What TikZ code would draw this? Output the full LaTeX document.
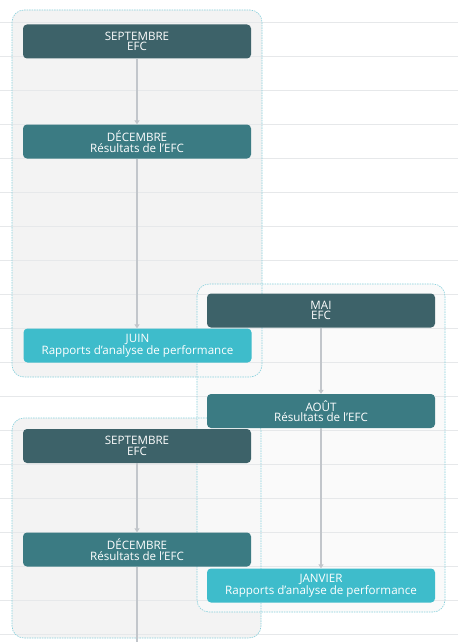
\documentclass[tikz,border=0pt]{standalone}
\usepackage{fontspec}
\setmainfont{Open Sans}
\usetikzlibrary{arrows.meta}
\definecolor{cdark}{HTML}{3D6269}
\definecolor{cmid}{HTML}{3B7B83}
\definecolor{ccyan}{HTML}{3EBCCB}
\definecolor{cgrid}{HTML}{E6E8EA}
\definecolor{cgroup}{HTML}{F3F3F3}
\definecolor{cgroupb}{HTML}{FAFAFA}
\definecolor{cborder}{HTML}{86D0DC}
\definecolor{carrow}{HTML}{C2C6CB}
\tikzset{
  evt/.style={minimum width=228pt, minimum height=34pt, inner sep=0pt, rounded corners=4pt,
    align=center, text=white, font=\fontsize{11.6}{10.6}\selectfont},
  darkbox/.style={evt, fill=cdark},
  midbox/.style={evt, fill=cmid},
  cyanbox/.style={evt, fill=ccyan},
  grp/.style={rounded corners=12pt},
  grpborder/.style={draw=cborder, line width=0.6pt, dash pattern=on 1.5pt off 1pt, rounded corners=12pt},
  conn/.style={draw=carrow, line width=1.3pt, -{Triangle[length=4pt,width=5pt]}},
  gridline/.style={draw=cgrid, line width=0.8pt}
}
\begin{document}
\begin{tikzpicture}[x=1pt,y=-1pt]
\useasboundingbox (0,0) rectangle (458,642);
\fill[white] (0,0) rectangle (458,642);
% group fills
\fill[grp, cgroup] (12,10) rectangle (262,377);
\fill[grp, cgroup] (12,418) rectangle (261,638);
\fill[grp, cgroupb, opacity=0.85] (197,284) rectangle (445,612);
% grid lines
\foreach \k in {0,...,18} {
  \draw[gridline] (0,{22.7+34*\k}) -- (458,{22.7+34*\k});
}
% group borders
\draw[grpborder] (12,10) rectangle (262,377);
\draw[grpborder] (12,418) rectangle (261,638);
\draw[grpborder] (197,284) rectangle (445,612);
% nodes
\node[darkbox] (s1) at (137,41.5) {SEPTEMBRE\\EFC};
\node[midbox] (d1) at (137,141.5) {DÉCEMBRE\\Résultats de l’EFC};
\node[cyanbox] (j1) at (137.5,345.5) {JUIN\\Rapports d’analyse de performance};
\node[darkbox] (m) at (321,310.5) {MAI\\EFC};
\node[midbox] (a) at (321,411) {AOÛT\\Résultats de l’EFC};
\node[cyanbox] (jan) at (321,585.5) {JANVIER\\Rapports d’analyse de performance};
\node[darkbox] (s2) at (137,446) {SEPTEMBRE\\EFC};
\node[midbox] (d2) at (137,549.5) {DÉCEMBRE\\Résultats de l’EFC};
\coordinate (end) at (137,642);
% connectors
\draw[conn] (s1) -- (d1);
\draw[conn] (d1) -- (j1.north -| d1);
\draw[conn] (m) -- (a);
\draw[conn] (a) -- (jan);
\draw[conn] (s2) -- (d2);
\draw[draw=carrow, line width=1.3pt] (d2) -- (end);
\end{tikzpicture}
\end{document}
